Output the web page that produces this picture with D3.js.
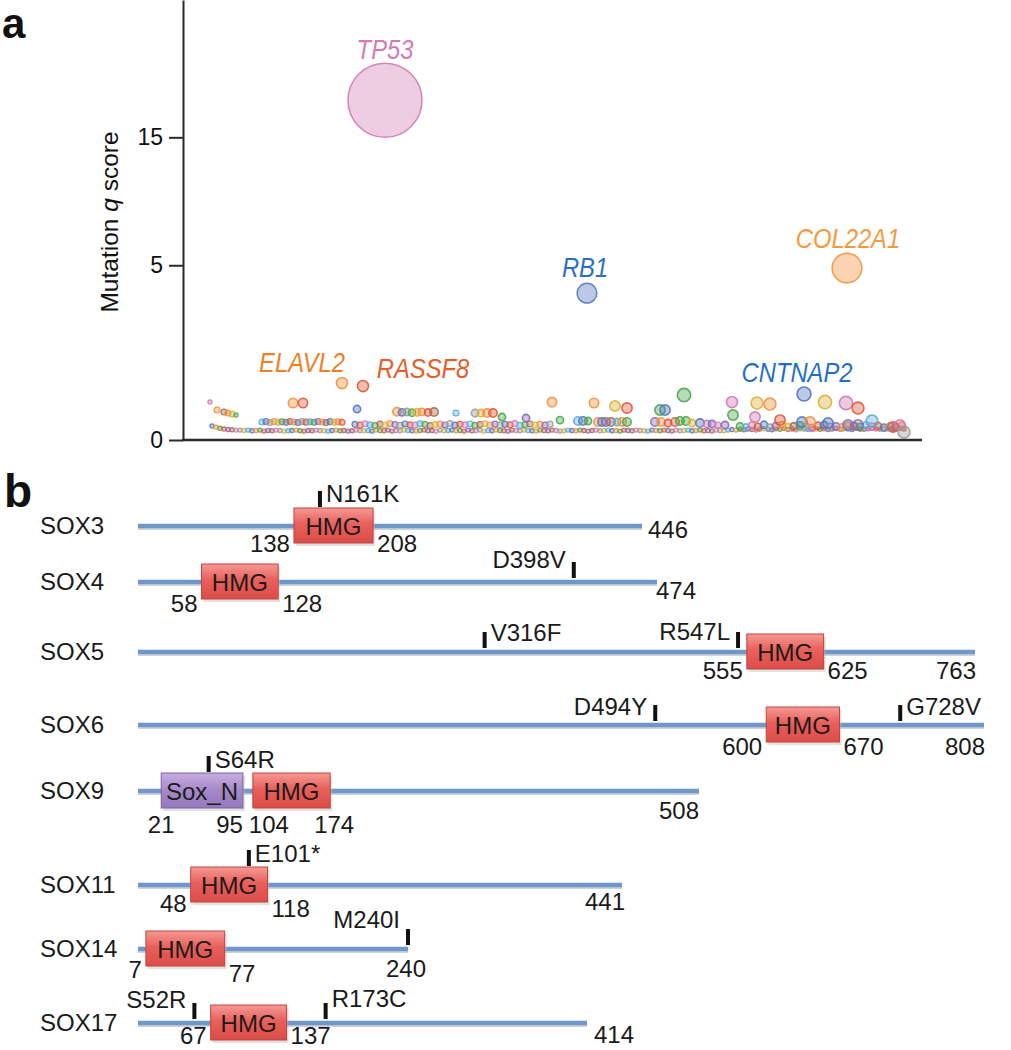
<!DOCTYPE html>
<html><head><meta charset="utf-8">
<script src="https://cdn.jsdelivr.net/npm/d3@7"></script>
<style>
body{margin:0;background:#fff;}
svg{display:block;}
text{font-family:'Liberation Sans',Arial,Helvetica,sans-serif;}
</style>
</head><body>
<script>
// ================= Panel a data =================
const yTicks = [0, 5, 15];
const highlightGenes = ["TP53", "RB1", "COL22A1", "CNTNAP2", "ELAVL2", "RASSF8"];
const highlightRank  = [175, 377, 637, 594, 132, 153];
const highlightQ     = [18.9, 3.53, 4.84, 0.346, 0.531, 0.477];
const highlightMuts  = [310, 22, 50, 11, 7, 7];
const highlightGroup = [6, 0, 1, 0, 1, 3];

const geneRank = [0,7,14,18,22,26,
  52,56,60,64,68,72,76,80,84,88,92,96,100,104,108,112,116,120,124,128,132,
  83,93,147,
  187,192,197,202,207,212,218,224,
  246,265,271,277,283,292,316,342,384,405,417,
  350,368,373,378,388,392,396,401,407,412,417,
  450,455,474,
  445,451,458,465,470,476,482,490,497,502,508,515,
  522,523,
  547,560,615,636,648,
  545,570,592,600,618,638,648,662,683,690,694];
const geneQ = [0.236,0.147,0.128,0.119,0.111,0.102,
  0.053,0.056,0.050,0.055,0.052,0.054,0.051,0.056,0.053,0.050,0.055,0.052,0.054,0.051,0.056,0.053,0.050,0.055,0.052,0.054,0.051,
  0.224,0.224,0.157,
  0.130,0.125,0.128,0.122,0.126,0.130,0.124,0.128,
  0.119,0.119,0.119,0.119,0.119,0.0865,0.079,0.236,0.224,0.189,0.167,
  0.065,0.059,0.059,0.059,0.053,0.053,0.053,0.053,0.053,0.053,0.053,
  0.147,0.147,0.331,
  0.053,0.053,0.047,0.053,0.059,0.059,0.047,0.047,0.042,0.042,0.037,0.037,
  0.236,0.102,
  0.224,0.212,0.236,0.224,0.167,
  0.0865,0.065,0.053,0.053,0.047,0.037,0.037,0.059,0.0276,0.037,0.0105];
const geneMuts = [1,2,2,2,2,1,
  2,2,2,2,2,2,2,2,2,2,2,2,2,2,2,2,2,2,2,2,2,
  5,5,3,
  4,3,3,3,3,3,3,4,
  2,3,3,4,4,3,3,5,5,6,6,
  3,4,4,3,4,4,4,4,3,4,4,
  6,6,10,
  4,4,3,4,4,4,3,4,3,3,2,3,
  7,6,
  8,8,10,10,8,
  6,6,6,6,6,6,6,8,6,6,8];
const geneGroup = [6,1,5,1,8,2,
  9,0,7,1,8,2,4,5,1,0,7,3,9,2,4,1,5,0,8,1,3,
  1,3,0,
  1,0,7,2,8,1,3,5,
  9,7,8,1,3,2,4,1,1,8,3,
  2,9,0,2,1,0,4,5,9,1,2,
  2,0,2,
  4,1,3,3,2,2,8,0,6,4,6,4,
  6,2,
  8,1,8,6,3,
  6,3,0,1,0,4,4,9,3,6,7];

// densely packed low-scoring genes (in gene order)
const baselineQ = [0.032,0.027,0.023,0.020,0.018,0.017,0.016,0.016,0.015,0.016,
  0.014,0.015,0.016,0.013,0.015,0.014,0.016,0.015,0.013,0.014,
  0.015,0.016,0.014,0.013,0.015,0.014,0.016,0.015,0.014,0.013,
  0.015,0.016,0.014,0.015,0.013,0.014,0.016,0.015,0.014,0.015,
  0.013,0.016,0.015,0.014,0.016,0.013,0.015,0.014,0.016,0.015,
  0.014,0.013,0.015,0.016,0.014,0.015,0.013,0.016,0.014,0.015,
  0.016,0.014,0.015,0.013,0.016,0.014,0.015,0.016,0.013,0.015,
  0.014,0.016,0.015,0.014,0.013,0.016,0.015,0.014,0.016,0.015,
  0.014,0.013,0.016,0.015,0.014,0.016,0.015,0.013,0.014,0.016,
  0.015,0.014,0.016,0.015,0.013,0.015,0.016,0.014,0.015,0.016,
  0.014,0.015,0.013,0.016,0.015,0.014,0.016,0.015,0.014,0.013,
  0.016,0.015,0.014,0.016,0.015,0.013,0.016,0.014,0.015,0.016,
  0.014,0.015,0.016,0.014,0.015,0.013,0.016,0.015,0.014,0.016,
  0.018,0.016,0.019,0.017,0.020,0.018,0.016,0.019,0.021,0.018,
  0.017,0.020,0.019,0.022,0.018,0.020,0.017,0.021,0.019,0.018,
  0.022,0.020,0.019,0.021,0.018,0.020,0.022,0.019,0.021,0.020,
  0.018,0.022,0.020,0.019,0.021,0.023,0.020,0.019,0.022,0.020,
  0.021,0.019,0.022,0.020];
const middleQ = [0.040,0.036,0.043,0.038,0.034,0.041,0.037,0.044,0.039,0.035,
  0.042,0.038,0.036,0.043,0.040,0.034,0.039,0.041,0.037,0.044,
  0.036,0.040,0.038,0.042,0.035,0.039,0.043,0.037,0.041,0.036,
  0.040,0.038,0.044,0.035,0.039,0.042,0.037,0.040,0.036,0.041];
const tailQ = [0.030,0.026,0.034,0.028,0.038,0.025,0.032,0.036,0.027,0.031,
  0.035,0.029,0.024,0.033,0.037,0.028,0.030,0.026,0.034,0.031,
  0.027,0.035,0.029,0.032,0.025,0.030,0.028,0.033];
const baselineMuts = 1, middleMuts = 2, tailMuts = 3;

// ================= Panel b data =================
const soxGenes  = ["SOX3","SOX4","SOX5","SOX6","SOX9","SOX11","SOX14","SOX17"];
const soxLength = [446, 474, 763, 808, 508, 441, 240, 414];
const domainGene  = ["SOX3","SOX4","SOX5","SOX6","SOX9","SOX9","SOX11","SOX14","SOX17"];
const domainName  = ["HMG","HMG","HMG","HMG","Sox_N","HMG","HMG","HMG","HMG"];
const domainStart = [138, 58, 555, 600, 21, 104, 48, 7, 67];
const domainEnd   = [208, 128, 625, 670, 95, 174, 118, 77, 137];
const mutationGene  = ["SOX3","SOX4","SOX5","SOX5","SOX6","SOX6","SOX9","SOX11","SOX14","SOX17","SOX17"];
const mutationLabel = ["N161K","D398V","V316F","R547L","D494Y","G728V","S64R","E101*","M240I","S52R","R173C"];
const mutationPos   = [161, 398, 316, 547, 494, 728, 64, 101, 240, 52, 173];

// ================= Layout / style =================
const W = 1011, H = 1050;
const palette = ["#5778c0","#f39140","#4ea64e","#de5a3c","#8a6ab8","#a86a50","#d27ab2","#9a9a9a","#d9b23a","#5aaed8"];
const labelColor = ["#d67ab6","#2b6fbf","#f59a3c","#1f6fc4","#ef7f25","#e65c2a"];
const labelOffset = [[0,4],[-2,6],[1,5],[-7,5],[-40,11],[60,8]];
const rowY   = [526, 582, 652, 725, 791, 885, 949, 1023];
const rowEnd = [642, 657, 975, 984, 699, 622, 408, 587];
const rowStart = 138;
const lenLabel = [[6,12,"start"],[-1,17,"start"],[1,27,"end"],[1,30,"end"],[0,28,"end"],[3,25,"end"],[-2,28,"middle"],[7,20,"start"]];
const domLabelDy = [[26,26],[30,30],[27,27],[30,30],[42,42],[27,32],[29,33],[21,21]];
const mutSide = ["R","L","R","L","L","R","R","R","L","L","R"];
const mutDy   = [11, 6, 9, 8, 10, 10, 12, 12, -1, 5, 4];

const svg = d3.select("body").append("svg").attr("width", W).attr("height", H)
  .style("background", "#fff");

// ---------- Panel a ----------
const x = d3.scaleLinear().domain([0, 700]).range([210, 910]);
const y = d3.scaleSqrt().domain([0, 31.7]).range([440, 0]);
const r = d3.scaleSqrt().domain([0, 310]).range([0, 37]);

svg.append("text").attr("x", 2).attr("y", 38).attr("font-size", 42).attr("font-weight", "bold")
  .attr("fill", "#111").text("a");

const pts = [];
baselineQ.forEach((q, i) => pts.push({rank: 2 + 4 * i, q, n: baselineMuts, g: i % 10}));
middleQ.forEach((q, i) => pts.push({rank: 145 + 5 * i, q, n: middleMuts, g: (i * 3) % 10}));
tailQ.forEach((q, i) => pts.push({rank: 530 + 6 * i, q, n: tailMuts, g: (i * 7 + 2) % 10}));
geneRank.forEach((rk, i) => pts.push({rank: rk, q: geneQ[i], n: geneMuts[i], g: geneGroup[i]}));
highlightGenes.forEach((name, i) => pts.push({rank: highlightRank[i], q: highlightQ[i], n: highlightMuts[i], g: highlightGroup[i], name, idx: i}));

const gPts = svg.append("g");
gPts.selectAll("circle").data(pts).join("circle")
  .attr("cx", d => x(d.rank)).attr("cy", d => y(d.q)).attr("r", d => r(d.n))
  .attr("fill", d => palette[d.g]).attr("fill-opacity", d => d.n > 100 ? 0.38 : 0.4)
  .attr("stroke", d => palette[d.g]).attr("stroke-opacity", 0.9)
  .attr("stroke-width", d => d.n > 20 ? 1.5 : (d.n > 2 ? 1.6 : 1.2));

// axes
const yAxis = d3.axisLeft(y).tickValues(yTicks).tickSize(14).tickSizeOuter(0).tickPadding(6).tickFormat(d3.format("d"));
const gy = svg.append("g").attr("transform", "translate(183,0)").call(yAxis);
gy.select(".domain").attr("stroke", "#2a2a2a").attr("stroke-width", 2);
gy.selectAll(".tick line").attr("stroke", "#2a2a2a").attr("stroke-width", 2);
gy.selectAll(".tick text").attr("font-size", 23).attr("fill", "#111")
  .attr("font-family", "'Liberation Sans',Arial,sans-serif");
svg.append("line").attr("x1", 182).attr("x2", 922).attr("y1", y(0)).attr("y2", y(0))
  .attr("stroke", "#2a2a2a").attr("stroke-width", 2.5);

const yt = svg.append("text").attr("transform", "translate(118,222) rotate(-90)")
  .attr("text-anchor", "middle").attr("font-size", 24.5).attr("fill", "#111");
yt.append("tspan").text("Mutation ");
yt.append("tspan").attr("font-style", "italic").text("q");
yt.append("tspan").text(" score");

// gene labels (slightly condensed italic)
svg.append("g").selectAll("text").data(pts.filter(d => d.name)).join("text")
  .attr("transform", d => {
    const lx = x(d.rank) + labelOffset[d.idx][0];
    const ly = d.idx >= 4 ? y(d.q) - labelOffset[d.idx][1] : y(d.q) - r(d.n) - labelOffset[d.idx][1];
    return `translate(${lx},${ly}) scale(0.88,1)`;
  })
  .attr("text-anchor", "middle").attr("font-style", "italic").attr("font-size", 27)
  .attr("fill", d => labelColor[d.idx]).text(d => d.name);

// ---------- Panel b ----------
svg.append("text").attr("x", 4).attr("y", 507).attr("font-size", 46).attr("font-weight", "bold")
  .attr("fill", "#111").text("b");

const defs = svg.append("defs");
const gradHMG = defs.append("linearGradient").attr("id", "gHMG").attr("x1", 0).attr("x2", 0).attr("y1", 0).attr("y2", 1);
gradHMG.append("stop").attr("offset", "0%").attr("stop-color", "#f49a95");
gradHMG.append("stop").attr("offset", "45%").attr("stop-color", "#e9605b");
gradHMG.append("stop").attr("offset", "100%").attr("stop-color", "#dc4c47");
const gradSox = defs.append("linearGradient").attr("id", "gSOXN").attr("x1", 0).attr("x2", 0).attr("y1", 0).attr("y2", 1);
gradSox.append("stop").attr("offset", "0%").attr("stop-color", "#c6aee0");
gradSox.append("stop").attr("offset", "50%").attr("stop-color", "#a688c9");
gradSox.append("stop").attr("offset", "100%").attr("stop-color", "#9679bd");

const textCol = "#1a1a1a", fs = 24;

soxGenes.forEach((gene, i) => {
  const ly = rowY[i];
  const sx = d3.scaleLinear().domain([0, soxLength[i]]).range([rowStart, rowEnd[i]]);
  const g = svg.append("g");
  g.append("text").attr("x", 40).attr("y", ly + 8).attr("font-size", fs).attr("fill", textCol).text(gene);
  g.append("line").attr("x1", sx(0)).attr("x2", sx(soxLength[i])).attr("y1", ly + 2.5).attr("y2", ly + 2.5)
    .attr("stroke", "#cfd3d8").attr("stroke-width", 3);
  g.append("line").attr("x1", sx(0)).attr("x2", sx(soxLength[i])).attr("y1", ly).attr("y2", ly)
    .attr("stroke", "#6f97ca").attr("stroke-width", 4.5);
  const ll = lenLabel[i];
  g.append("text").attr("x", sx(soxLength[i]) + ll[0]).attr("y", ly + ll[1]).attr("text-anchor", ll[2])
    .attr("font-size", fs).attr("fill", textCol).text(soxLength[i]);

  const doms = domainGene.map((dg, k) => k).filter(k => domainGene[k] === gene);
  const multi = doms.length > 1;
  const boxTop = ly - 18, boxH = 35;
  doms.forEach(k => {
    const x0 = sx(domainStart[k]), x1 = sx(domainEnd[k]);
    g.append("rect").attr("x", x0 + 2).attr("y", boxTop + 3).attr("width", x1 - x0).attr("height", boxH)
      .attr("fill", "#bdbdbd").attr("opacity", 0.45);
    g.append("rect").attr("x", x0).attr("y", boxTop).attr("width", x1 - x0).attr("height", boxH)
      .attr("fill", domainName[k] === "HMG" ? "url(#gHMG)" : "url(#gSOXN)")
      .attr("stroke", domainName[k] === "HMG" ? "#c4433e" : "#7d62a3").attr("stroke-width", 1);
    g.append("text").attr("x", (x0 + x1) / 2).attr("y", ly + 9).attr("text-anchor", "middle")
      .attr("font-size", fs).attr("fill", "#1c1c1c").text(domainName[k]);
    const dy = domLabelDy[i];
    if (multi) {
      const prevAdj = doms.some(o => o !== k && domainEnd[o] <= domainStart[k] && domainStart[k] - domainEnd[o] < 15);
      const nextAdj = doms.some(o => o !== k && domainStart[o] >= domainEnd[k] && domainStart[o] - domainEnd[k] < 15);
      g.append("text").attr("x", prevAdj ? x0 - 4 : x0).attr("y", ly + dy[0])
        .attr("text-anchor", prevAdj ? "start" : "middle").attr("font-size", fs).attr("fill", textCol).text(domainStart[k]);
      g.append("text").attr("x", nextAdj ? x1 : x1 + 4).attr("y", ly + dy[1])
        .attr("text-anchor", nextAdj ? "end" : "middle").attr("font-size", fs).attr("fill", textCol).text(domainEnd[k]);
    } else {
      g.append("text").attr("x", x0 - 4).attr("y", ly + dy[0]).attr("text-anchor", "end")
        .attr("font-size", fs).attr("fill", textCol).text(domainStart[k]);
      g.append("text").attr("x", x1 + 4).attr("y", ly + dy[1]).attr("text-anchor", "start")
        .attr("font-size", fs).attr("fill", textCol).text(domainEnd[k]);
    }
  });

  mutationGene.forEach((mg, m) => {
    if (mg !== gene) return;
    const p = mutationPos[m];
    const mx = sx(p);
    const onBox = doms.some(k => p >= domainStart[k] && p <= domainEnd[k]);
    const bottom = onBox ? boxTop - 1 : ly - 4;
    const top = bottom - 16;
    g.append("rect").attr("x", mx - 2).attr("y", top).attr("width", 4).attr("height", 16).attr("fill", "#111");
    const right = mutSide[m] === "R";
    g.append("text").attr("x", right ? mx + 6 : mx - 8).attr("y", top + mutDy[m])
      .attr("text-anchor", right ? "start" : "end").attr("font-size", fs).attr("fill", textCol)
      .text(mutationLabel[m]);
  });
});
</script>
</body></html>
